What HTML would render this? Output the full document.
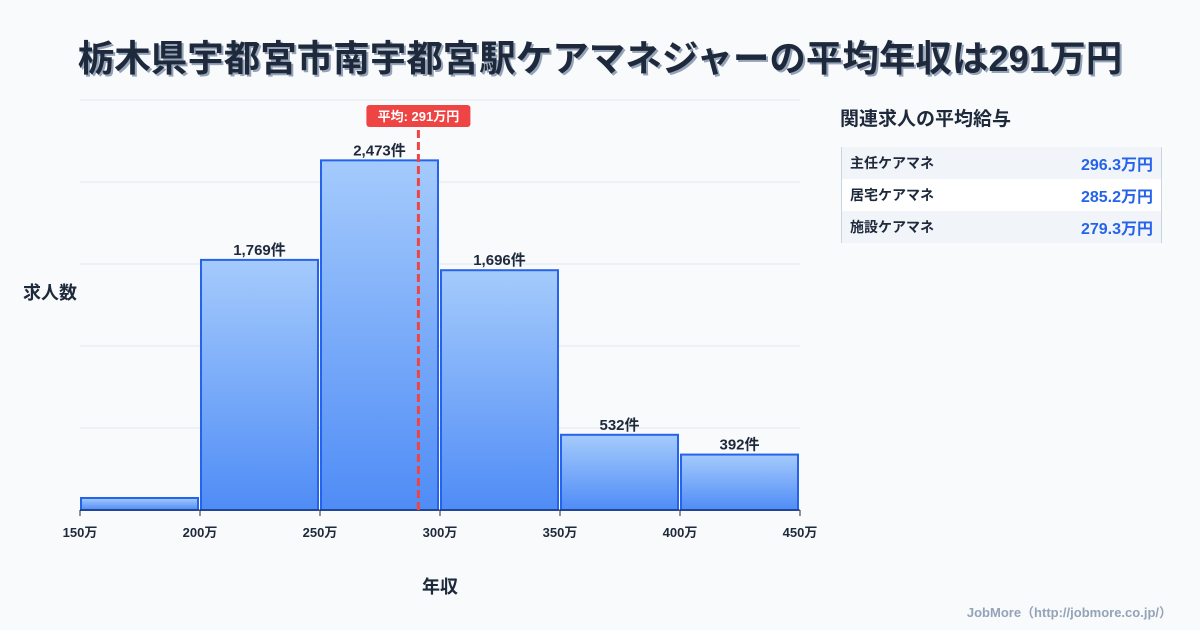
<!DOCTYPE html>
<html><head><meta charset="utf-8">
<style>
body{margin:0;width:1200px;height:630px;background:#f8fafc;font-family:"Liberation Sans","Noto Sans CJK JP",sans-serif;overflow:hidden;position:relative;color:#1e293b}
.title{position:absolute;top:29px;left:0;width:1200px;text-align:center;font-size:36.5px;font-weight:bold;color:#1e293b;text-shadow:2px 2px 0 #94a3b8}
.side{position:absolute;left:840px;top:104px}
.side h3{margin:0;font-size:19px;font-weight:bold;color:#1e293b}
.tbl{position:absolute;left:841px;top:147px;width:319px;border-left:1px solid #cbd5e1;border-right:1px solid #cbd5e1}
.row{height:32px;display:flex;justify-content:space-between;align-items:center;padding:0 8px;font-size:14px;font-weight:bold}
.row span:last-child{color:#2563eb;font-size:16px}
.foot{position:absolute;right:28px;top:602px;font-size:13px;color:#94a3b8;font-weight:bold}
</style></head><body>
<div class="title">栃木県宇都宮市南宇都宮駅ケアマネジャーの平均年収は291万円</div>
<svg id="chart" width="1200" height="630" style="position:absolute;left:0;top:0">
<defs><linearGradient id="g" x1="0" y1="0" x2="0" y2="1"><stop offset="0" stop-color="#a5cbfc"/><stop offset="1" stop-color="#4f8cf6"/></linearGradient></defs>
</svg>
<div class="side"><h3>関連求人の平均給与</h3></div>
<div class="tbl">
<div class="row" style="background:#f1f5f9"><span>主任ケアマネ</span><span>296.3万円</span></div>
<div class="row" style="background:#fff"><span>居宅ケアマネ</span><span>285.2万円</span></div>
<div class="row" style="background:#f1f5f9"><span>施設ケアマネ</span><span>279.3万円</span></div>
</div>
<div class="foot">JobMore（http://jobmore.co.jp/）</div>
<script>
const binStarts=[150,200,250,300,350,400];
const counts=[85,1769,2473,1696,532,392];
const labels=["","1,769件","2,473件","1,696件","532件","392件"];
const xTicks=[150,200,250,300,350,400,450];
const avg=291;
const avgLabel="平均: 291万円";
const NS="http://www.w3.org/2000/svg";
const svg=document.getElementById('chart');
const X0=80,X1=800,Y0=510,Y1=100,xmin=150,xmax=450,ymax=2900;
const xs=v=>X0+(v-xmin)/(xmax-xmin)*(X1-X0);
const ys=v=>Y0-v/ymax*(Y0-Y1);
function mk(t,a){const e=document.createElementNS(NS,t);for(const k in a)e.setAttribute(k,a[k]);svg.appendChild(e);return e;}
for(let i=0;i<=5;i++){const y=Y1+i*(Y0-Y1)/5;
const gl=mk('line',{x1:X0,x2:X1,y1:y,y2:y,stroke:'#e2e8f0','stroke-width':1});

}
binStarts.forEach((b,i)=>{
const x=xs(b)+1,w=xs(b+50)-xs(b)-3,y=ys(counts[i]);
const r=mk('rect',{x:x,y:y,width:w,height:Y0-y,fill:'url(#g)',stroke:'#2563eb','stroke-width':2});


if(labels[i]){const t=mk('text',{x:x+w/2,y:y-5,'text-anchor':'middle','font-size':15,'font-weight':'bold',fill:'#1e293b'});t.textContent=labels[i];

}
});
const ax=mk('line',{x1:X0,x2:X1,y1:Y0,y2:Y0,stroke:'#1e293b','stroke-width':1});


xTicks.forEach(v=>{
const tk=mk('line',{x1:xs(v),x2:xs(v),y1:Y0,y2:Y0+6,stroke:'#1e293b'});


const t=mk('text',{x:xs(v),y:Y0+27,'text-anchor':'middle','font-size':13,'font-weight':'bold',fill:'#1e293b'});t.textContent=v+'万';

});
const al=mk('line',{x1:xs(avg),x2:xs(avg),y1:130,y2:Y0,stroke:'#ef4444','stroke-width':3,'stroke-dasharray':'8,4'});


const ar=mk('rect',{x:xs(avg)-52,y:105,width:104,height:22,rx:3,fill:'#ef4444'});


const at=mk('text',{x:xs(avg),y:121,'text-anchor':'middle','font-size':13,'font-weight':'bold',fill:'#fff'});at.textContent=avgLabel;


const yt=mk('text',{x:50,y:299,'text-anchor':'middle','font-size':18,'font-weight':'bold',fill:'#1e293b'});yt.textContent='求人数';


const xt=mk('text',{x:440,y:593,'text-anchor':'middle','font-size':18,'font-weight':'bold',fill:'#1e293b'});xt.textContent='年収';


</script>
</body></html>
